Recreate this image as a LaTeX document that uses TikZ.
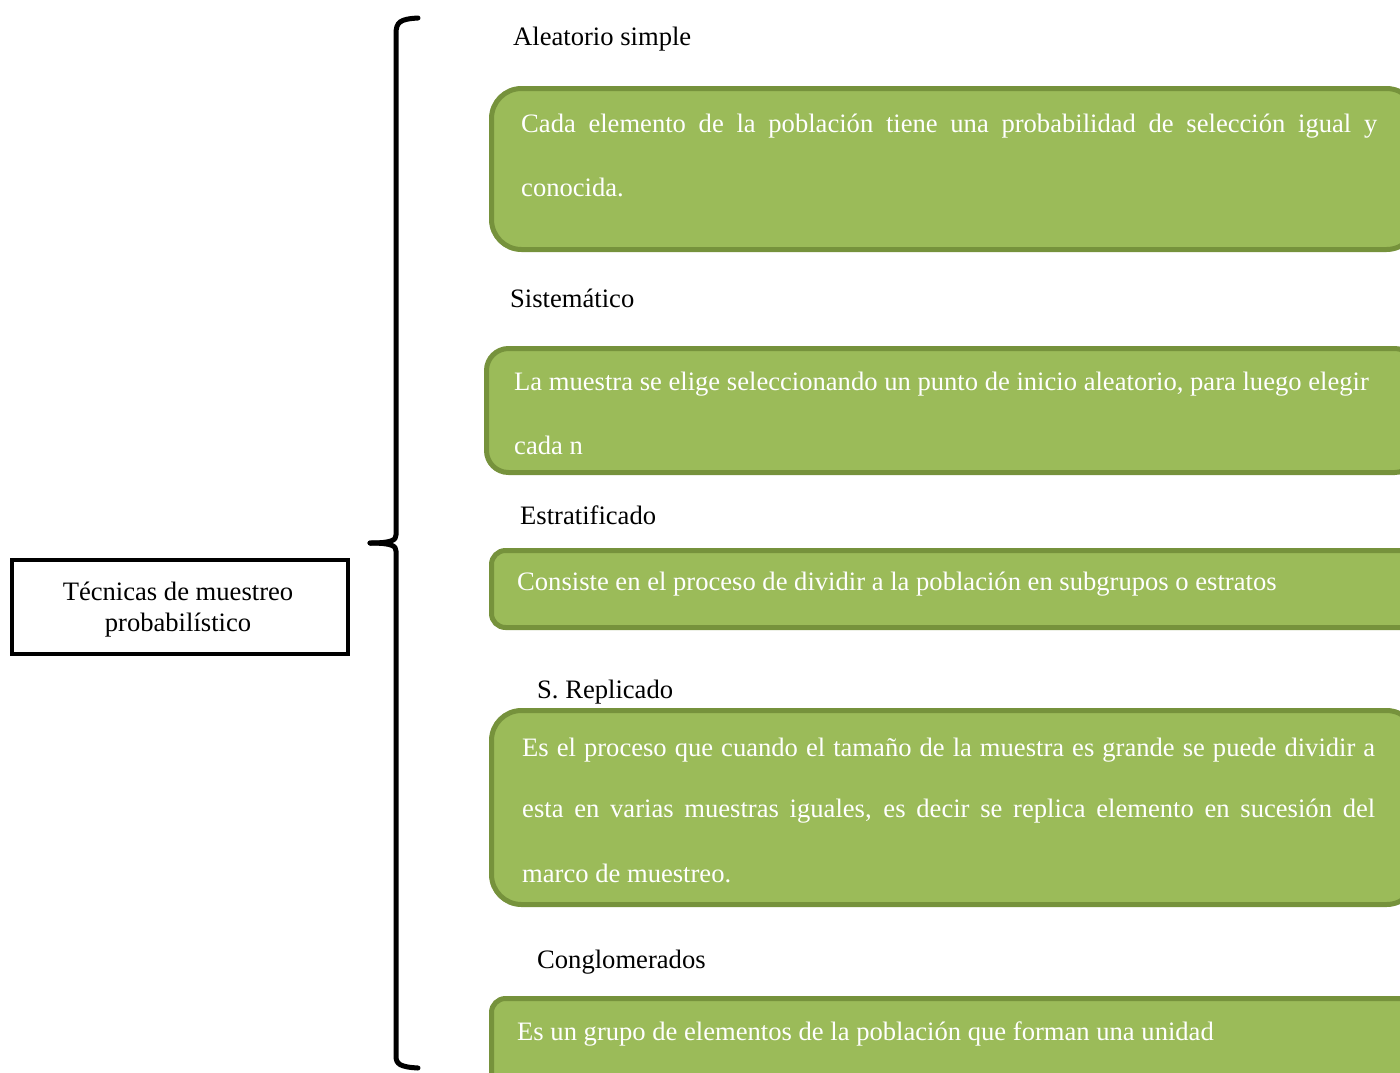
\documentclass[tikz,border=0pt]{standalone}
\usepackage{fontspec}
\setmainfont{Liberation Serif}
\definecolor{gfill}{HTML}{9BBB59}
\definecolor{gline}{HTML}{76923C}
\begin{document}
\begin{tikzpicture}[x=1pt,y=-1pt,
  gbox/.style={draw=gline, line width=5pt, fill=gfill, anchor=north west, inner sep=0pt},
  ttl/.style={anchor=west, inner sep=0pt, font=\fontsize{26.6}{32}\selectfont},
  btxt/.style={anchor=west, inner sep=0pt, text=white, font=\fontsize{26.6}{32}\selectfont},
  brace/.style={line width=5pt, line cap=round, line join=round}]
\useasboundingbox (0,0) rectangle (1400,1072);

% left box
\node[draw, line width=4pt, minimum width=336pt, minimum height=94pt, anchor=north west, inner sep=0pt] (main) at (10,558) {};
\node[align=center, inner sep=0pt, font=\fontsize{26.6}{31}\selectfont] (maintxt) at (178,610) {Técnicas de muestreo\\probabilístico};

% brace
\coordinate (tip) at (370,543);
\draw[brace] (418,18) .. controls (400,19) and (396,22) .. (396,34) -- (396,535) .. controls (396,540) and (392,543) .. (tip);
\draw[brace] (tip) .. controls (392,543) and (396,546) .. (396,551) -- (396,1056) .. controls (396,1064) and (400,1067) .. (418,1068);

% boxes
\node[gbox, rounded corners=30pt, minimum width=925pt, minimum height=161pt] (b1) at (489,86) {};
\node[gbox, rounded corners=22pt, minimum width=930pt, minimum height=124pt] (b2) at (484,346) {};
\node[gbox, rounded corners=14pt, minimum width=925pt, minimum height=77pt] (b3) at (489,548) {};
\node[gbox, rounded corners=30pt, minimum width=925pt, minimum height=194pt] (b4) at (489,708) {};
\node[gbox, rounded corners=14pt, minimum width=925pt, minimum height=100pt] (b5) at (489,996) {};

% titles
\node[ttl] (t1) at (513,39) {Aleatorio simple};
\node[ttl] (t2) at (510,298) {Sistemático};
\node[ttl] (t3) at (520,515) {Estratificado};
\node[ttl] (t4) at (537,692.5) {S. Replicado};
\node[ttl] (t5) at (537,962.5) {Conglomerados};

% box texts
\node[btxt] (x1a) at (521,126.5) {\makebox[856pt][s]{Cada elemento de la población tiene una probabilidad de selección igual y}};
\node[btxt] (x1b) at (521,187) {conocida.};
\node[btxt] (x2a) at (514,384.5) {La muestra se elige seleccionando un punto de inicio aleatorio, para luego elegir};
\node[btxt] (x2b) at (514,445) {cada n};
\node[btxt] (x3) at (517,584.5) {Consiste en el proceso de dividir a la población en subgrupos o estratos};
\node[btxt] (x4a) at (522,750.5) {\makebox[853pt][s]{Es el proceso que cuando el tamaño de la muestra es grande se puede dividir a}};
\node[btxt] (x4b) at (522,811.5) {\makebox[853pt][s]{esta en varias muestras iguales, es decir se replica elemento en sucesión del}};
\node[btxt] (x4c) at (522,873.5) {marco de muestreo.};
\node[btxt] (x5) at (517,1033.5) {Es un grupo de elementos de la población que forman una unidad};
\end{tikzpicture}
\end{document}
